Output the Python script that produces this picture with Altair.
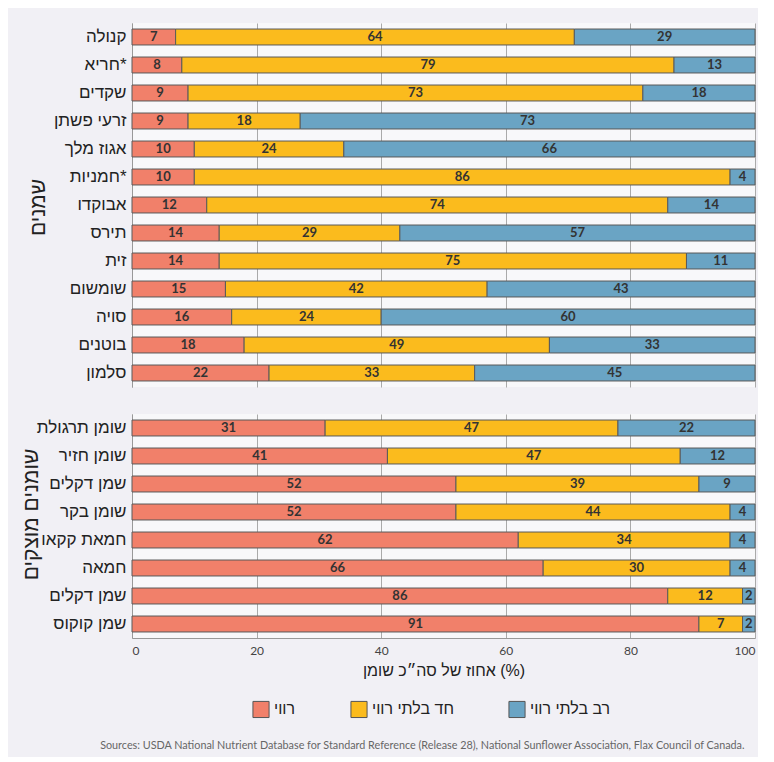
import json
import altair as alt
import pandas as pd

# ---- data ----
series_names = ["רווי", "חד בלתי רווי", "רב בלתי רווי"]
series_colors = ["#f1806a", "#fbbb1d", "#6aa4c4"]

oil_names = ["קנולה", "חריא*", "שקדים", "זרעי פשתן", "אגוז מלך", "חמניות*", "אבוקדו",
             "תירס", "זית", "שומשום", "סויה", "בוטנים", "סלמון"]
oil_saturated = [7, 8, 9, 9, 10, 10, 12, 14, 14, 15, 16, 18, 22]
oil_mono = [64, 79, 73, 18, 24, 86, 74, 29, 75, 42, 24, 49, 33]
oil_poly = [29, 13, 18, 73, 66, 4, 14, 57, 11, 43, 60, 33, 45]

fat_names = ["שומן תרגולת", "שומן חזיר", "שמן דקלים", "שומן בקר", "חמאת קקאו", "חמאה",
             "שמן דקלים", "שמן קוקוס"]
fat_saturated = [31, 41, 52, 52, 62, 66, 86, 91]
fat_mono = [47, 47, 39, 44, 34, 30, 12, 7]
fat_poly = [22, 12, 9, 4, 4, 4, 2, 2]

x_ticks = [0, 20, 40, 60, 80, 100]
group_titles = ["שמנים", "שומנים מוצקים"]
x_title = "אחוז של סה״כ שומן (%)"
source_text = ("Sources: USDA National Nutrient Database for Standard Reference (Release 28), "
               "National Sunflower Association, Flax Council of Canada.")

HEB = "Liberation Sans"
NUM = "Lato"


def make_df(names, sat, mono, poly):
    rows = []
    for i in range(len(names)):
        for k, vals in enumerate([sat, mono, poly]):
            rows.append({"idx": i, "series": series_names[k], "order": k, "value": vals[i]})
    return pd.DataFrame(rows)


def panel(names, sat, mono, poly, title, title_x, title_y, bottom):
    df = make_df(names, sat, mono, poly)
    n = len(names)
    label_expr = json.dumps(names, ensure_ascii=False) + "[datum.value]"
    if bottom:
        xaxis = alt.Axis(values=x_ticks, title=x_title, grid=True, gridColor="#aaaaaa",
                         ticks=False, domainColor="#999999", labelFont=NUM, labelFontSize=12,
                         labelColor="#444444", labelPadding=7, titleFont=HEB,
                         titleFontSize=16, titleFontWeight="normal", titleColor="#222222",
                         titlePadding=6)
    else:
        xaxis = alt.Axis(values=x_ticks, title=None, grid=True, gridColor="#aaaaaa",
                         ticks=False, labels=False, domain=False)
    yenc = alt.Y("idx:O",
                 scale=alt.Scale(paddingInner=0.43, paddingOuter=0.215),
                 axis=alt.Axis(labelExpr=label_expr, title=title, titleAngle=270,
                               titleX=title_x, titleY=title_y, titleFont=HEB,
                               titleFontSize=21, titleFontWeight="normal",
                               titleColor="#222222", titleBaseline="alphabetic",
                               titleAlign="center",
                               labelFont=HEB, labelFontSize=17, labelColor="#222222",
                               labelPadding=6, ticks=False, domainColor="#999999"))
    base = (alt.Chart(df)
            .transform_stack(stack="value", as_=["x0", "x1"], groupby=["idx"],
                             sort=[alt.SortField("order", order="ascending")])
            .transform_calculate(mid="(datum.x0 + datum.x1) / 2"))
    bars = base.mark_bar(stroke="#5a5a5a", strokeWidth=1).encode(
        x=alt.X("x0:Q", scale=alt.Scale(domain=[0, 100]), axis=xaxis),
        x2="x1:Q",
        y=yenc,
        color=alt.Color("series:N",
                        scale=alt.Scale(domain=series_names, range=series_colors),
                        legend=alt.Legend(title=None, orient="none", direction="horizontal",
                                          legendX=120, legendY=677,
                                          symbolType="square", symbolSize=260,
                                          symbolStrokeColor="#555555", symbolStrokeWidth=1,
                                          symbolOpacity=1, labelOffset=4,
                                          labelFont=HEB, labelFontSize=16,
                                          labelColor="#222222", columnPadding=52)),
        order=alt.Order("order:Q"),
    )
    texts = base.mark_text(font=NUM, fontWeight="bold", fontSize=13, color="#333333",
                           baseline="middle").encode(
        x=alt.X("mid:Q"),
        y=alt.Y("idx:O"),
        text=alt.Text("value:Q"),
    )
    return alt.layer(bars, texts).properties(width=623, height=28 * n)


top = panel(oil_names, oil_saturated, oil_mono, oil_poly, group_titles[0], -88, 184, False)
bottom = panel(fat_names, fat_saturated, fat_mono, fat_poly, group_titles[1], -95, 100, True)

chart = (alt.vconcat(top, bottom, spacing=27)
         .properties(
             background="#f1f0f5",
             padding={"left": 12, "top": 15, "right": 2, "bottom": 6},
             title=alt.TitleParams(text=source_text, orient="bottom", anchor="end",
                                   fontSize=10.8, font=NUM, fontWeight="normal",
                                   color="#666666", offset=20, dx=-11))
         .configure_view(stroke=None, fill="#f8f8fa"))

chart.save("out.html", embed_options={"renderer": "svg", "actions": False})
